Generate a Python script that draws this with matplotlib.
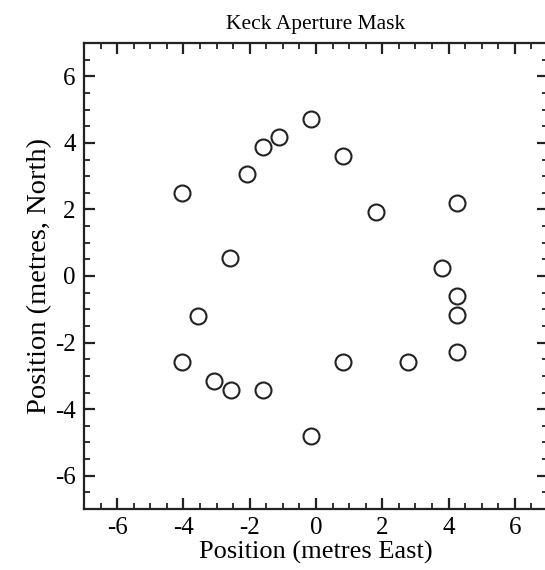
import matplotlib
matplotlib.use('Agg')
import matplotlib.pyplot as plt
from matplotlib.ticker import MultipleLocator

# Hole positions of the Keck aperture mask (metres)
east = [-0.14, -1.11, -1.59, -2.09, -4.05, 0.82, 1.81, 4.24, -2.59, 3.79,
        4.24, 4.24, 4.24, -3.56, -4.05, -3.09, -2.57, -1.61, 0.82, 2.79, -0.16]
north = [4.72, 4.17, 3.89, 3.05, 2.49, 3.62, 1.92, 2.20, 0.54, 0.24,
         -0.61, -1.16, -2.29, -1.19, -2.57, -3.14, -3.43, -3.43, -2.57, -2.57, -4.82]

plt.rcParams['font.family'] = ['Liberation Serif', 'DejaVu Serif']
plt.rcParams['axes.unicode_minus'] = False

fig = plt.figure(figsize=(5.45, 5.70), dpi=100)
ax = fig.add_axes([84 / 545, 1 - 509 / 570, 464 / 545, 466 / 570])

ax.plot(east, north, linestyle='none', marker='o', markersize=11.5,
        markerfacecolor='white', markeredgecolor='#222222', markeredgewidth=1.5)

ax.set_xlim(-7, 7)
ax.set_ylim(-7, 7)
ax.xaxis.set_major_locator(MultipleLocator(2))
ax.xaxis.set_minor_locator(MultipleLocator(0.5))
ax.yaxis.set_major_locator(MultipleLocator(2))
ax.yaxis.set_minor_locator(MultipleLocator(0.5))
ax.tick_params(which='both', direction='in', top=True, right=True,
               color='#222222', labelsize=18, pad=6)
ax.tick_params(which='major', length=8, width=1.6)
ax.tick_params(which='minor', length=4.5, width=1.3)
for s in ax.spines.values():
    s.set_linewidth(1.6)
    s.set_color('#222222')

ax.set_title('Keck Aperture Mask', fontsize=15.5, pad=10)
ax.set_xlabel('Position (metres East)', fontsize=19, labelpad=1)
ax.set_ylabel('Position (metres, North)', fontsize=20.5, labelpad=2)

fig.savefig('out.png', dpi=100)
